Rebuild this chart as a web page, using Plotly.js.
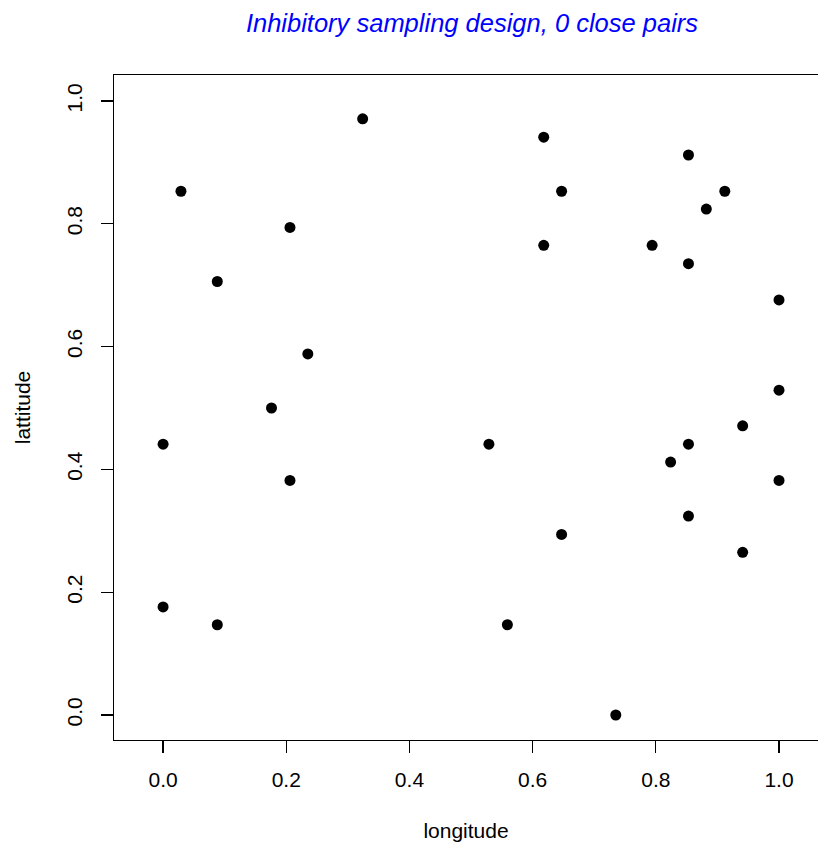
<!DOCTYPE html>
<html>
<head>
<meta charset="utf-8">
<script src="https://cdn.plot.ly/plotly-3.0.1.min.js"></script>
<style>
html,body{margin:0;padding:0;background:#fff;overflow:hidden;}
#chart{width:818px;height:849px;}
</style>
</head>
<body>
<div id="chart"></div>
<script>
const longitude = [0.000, 0.000, 0.029, 0.088, 0.088, 0.176, 0.206, 0.206, 0.235, 0.324,
                   0.529, 0.559, 0.618, 0.618, 0.647, 0.647, 0.735, 0.794, 0.824, 0.853,
                   0.853, 0.853, 0.853, 0.882, 0.912, 0.941, 0.941, 1.000, 1.000, 1.000];
const lattitude = [0.441, 0.176, 0.853, 0.706, 0.147, 0.500, 0.794, 0.382, 0.588, 0.971,
                   0.441, 0.147, 0.941, 0.765, 0.853, 0.294, 0.000, 0.765, 0.412, 0.912,
                   0.735, 0.441, 0.324, 0.824, 0.853, 0.471, 0.265, 0.676, 0.529, 0.382];
const xTicks = [0.0, 0.2, 0.4, 0.6, 0.8, 1.0];
const xTickLabels = ["0.0", "0.2", "0.4", "0.6", "0.8", "1.0"];
const yTicks = [0.0, 0.2, 0.4, 0.6, 0.8, 1.0];
const yTickLabels = ["0.0", "0.2", "0.4", "0.6", "0.8", "1.0"];
const titleText = "Inhibitory sampling design, 0 close pairs";

const trace = {
  x: longitude, y: lattitude, type: 'scatter', mode: 'markers',
  marker: {color: '#000000', size: 11, line: {width: 0}},
  hoverinfo: 'skip'
};

const axisFont = {family: 'Liberation Sans, Arial, sans-serif', size: 21, color: '#000'};

const layout = {
  width: 818, height: 849,
  margin: {l: 114, r: 0, t: 75, b: 109, pad: 0},
  paper_bgcolor: '#fff', plot_bgcolor: '#fff',
  showlegend: false,
  font: axisFont,
  title: {
    text: titleText,
    font: {family: 'Liberation Sans, Arial, sans-serif', size: 25.5, color: '#0000FF', style: 'italic'},
    xref: 'paper', x: 0.5085, xanchor: 'center',
    yref: 'container', y: 1 - 23/849, yanchor: 'middle'
  },
  xaxis: {
    range: [-0.0797, 1.0633],
    tickmode: 'array', tickvals: xTicks, ticktext: xTickLabels,
    ticks: 'outside', ticklen: 12, tickwidth: 1.3, tickcolor: '#000',
    ticklabelstandoff: 8,
    showline: true, linecolor: '#000', linewidth: 1.3, mirror: true,
    showgrid: false, zeroline: false,
    tickfont: axisFont,
    title: {text: 'longitude', font: axisFont, standoff: 33}
  },
  yaxis: {
    range: [-0.0407, 1.0423],
    tickmode: 'array', tickvals: yTicks, ticktext: yTickLabels,
    ticks: 'outside', ticklen: 12, tickwidth: 1.3, tickcolor: '#000', tickangle: -90,
    ticklabelstandoff: 10,
    showline: true, linecolor: '#000', linewidth: 1.3, mirror: false,
    showgrid: false, zeroline: false,
    tickfont: axisFont,
    title: {text: 'lattitude', font: axisFont, standoff: 27}
  }
};

Plotly.newPlot('chart', [trace], layout, {staticPlot: true, displayModeBar: false});
</script>
</body>
</html>
